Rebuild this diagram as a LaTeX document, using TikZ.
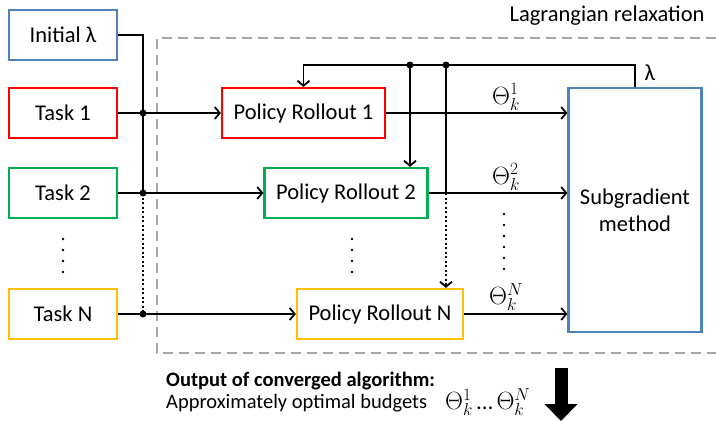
\documentclass[tikz,border=0pt]{standalone}
\usepackage{fontspec}
\setmainfont{Carlito}
\usetikzlibrary{positioning, arrows.meta, calc}
\definecolor{boxblue}{HTML}{4F81BD}
\definecolor{boxred}{HTML}{FF0000}
\definecolor{boxgreen}{HTML}{00B050}
\definecolor{boxorange}{HTML}{FFC000}
\definecolor{framegray}{HTML}{A6A6A6}

\tikzset{
  taskbox/.style={draw=#1, line width=2.2pt, minimum width=108pt, minimum height=50pt,
                  inner sep=0pt, font=\fontsize{22.5}{27}\selectfont},
  rolloutbox/.style={taskbox=#1, minimum width=163pt},
  flow/.style={line width=1.8pt, -{Straight Barb[length=5pt,width=12pt]}},
  wire/.style={line width=1.8pt},
  junction/.style={circle, fill=black, inner sep=0pt, minimum size=7pt},
  budget/.style={font=\fontsize{23}{27}\selectfont, inner sep=1pt},
}

\begin{document}
\begin{tikzpicture}[x=1pt, y=-1pt]
  \useasboundingbox (0,0) rectangle (716,421);

  % frame of the relaxation
  \draw[framegray, line width=2pt, dash pattern=on 10pt off 6pt]
    (716,38) -| (157,353) -- (716,353);
  \node[anchor=east, font=\fontsize{22.5}{27}\selectfont] (lagr) at (708,16) {Lagrangian relaxation};

  % inputs
  \node[taskbox=boxblue]   (init)  at (63,35)  {Initial λ};
  \node[taskbox=boxred]    (task1) at (63,113) {Task 1};
  \node[taskbox=boxgreen]  (task2) at (63,193) {Task 2};
  \node[taskbox=boxorange] (taskN) at (63,314) {Task N};

  % rollouts
  \node[rolloutbox=boxred]    (roll1) at (303.5,113) {Policy Rollout 1};
  \node[rolloutbox=boxgreen]  (roll2) at (346,193)   {Policy Rollout 2};
  \node[rolloutbox=boxorange, minimum width=166pt] (rollN) at (380,314) {Policy Rollout N};

  \node[taskbox=boxblue, minimum width=133pt, minimum height=244pt, align=center]
    (subgrad) at (635,210) {Subgradient\\method};

  % lambda bus on the left
  \coordinate (j1) at (143,113);
  \coordinate (j2) at (143,193);
  \coordinate (jN) at (143,314);
  \draw[wire] (init.east) -| (j2);
  \draw[wire, dash pattern=on 2pt off 2.5pt] (j2) -- (jN);
  \draw[flow] (task1.east) -- (roll1.west);
  \draw[flow] (task2.east) -- (roll2.west);
  \draw[flow] (taskN.east) -- (rollN.west);
  \foreach \j in {j1, j2, jN}
    \node[junction] at (\j) {};

  % outputs to the subgradient method
  \draw[flow] (roll1.east) -- (subgrad.west |- roll1.east);
  \draw[flow] (roll2.east) -- (subgrad.west |- roll2.east);
  \draw[flow] (rollN.east) -- (subgrad.west |- rollN.east);
  \node[budget] (th1) at (506,97)  {$\Theta_k^1$};
  \node[budget] (th2) at (506,177) {$\Theta_k^2$};
  \node[budget] (thN) at (506,297) {$\Theta_k^N$};

  % lambda feedback
  \coordinate (fb) at (0,65);
  \coordinate (fa) at (410,65);
  \coordinate (fc) at (446,65);
  \draw[flow] (subgrad.north) |- (roll1.north |- fb) -- (roll1.north);
  \draw[flow] (fa) -- (fa |- roll2.north);
  \draw[wire] (fc) -- (fc |- roll2.east);
  \draw[flow, dash pattern=on 2pt off 2.5pt] (fc |- roll2.east) -- (fc |- rollN.north);
  \node[junction] at (fa) {};
  \node[junction] at (fc) {};
  \node[budget] (lam) at (650,73) {λ};

  % vertical dots
  \foreach \y in {239,250,261,272} {
    \fill (63,\y) circle (1.3pt);
    \fill (352,\y) circle (1.3pt);
  }
  \foreach \y in {214,225,236,247,258,269}
    \fill (504,\y) circle (1.3pt);

  % result
  \node[anchor=west, inner sep=0pt, font=\fontsize{20.5}{24}\selectfont\bfseries] (outhead) at (166,381)
    {Output of converged algorithm:};
  \node[anchor=west, inner sep=0pt, font=\fontsize{20.5}{24}\selectfont] (outtext) at (166,403)
    {Approximately optimal budgets};
  \node[anchor=west, budget] (outtheta) at (444,402) {$\Theta_k^1$\,…\,$\Theta_k^N$};
  \coordinate (outtop) at (561,368);
  \draw[line width=13pt, -{Triangle[length=17pt,width=32pt]}] (outtop) -- ++(0,53);
\end{tikzpicture}
\end{document}
